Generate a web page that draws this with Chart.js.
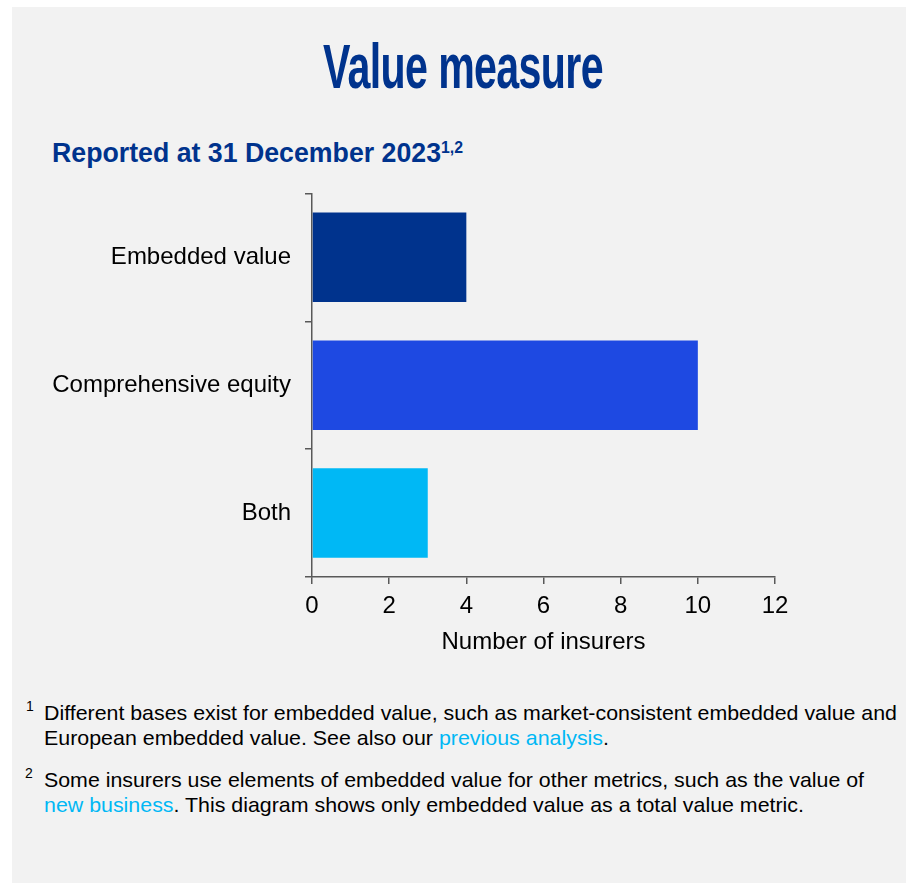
<!DOCTYPE html>
<html>
<head>
<meta charset="utf-8">
<script src="https://cdn.jsdelivr.net/npm/chart.js@4.4.0/dist/chart.umd.min.js"></script>
<style>
  body { margin: 0; background: #ffffff; font-family: "Liberation Sans", Arial, sans-serif; }
  .panel { position: absolute; left: 12px; top: 7px; width: 894px; height: 876px; background: #f2f2f2; }
  .fit { position: absolute; white-space: nowrap; transform-origin: 0 0; }
  .title { left: 323px; top: 35px; font-size: 63px; line-height: 63px; font-weight: bold; color: #00338d; letter-spacing: -1px; }
  .subtitle { left: 52px; top: 140px; font-size: 27px; line-height: 27px; font-weight: bold; color: #00338d; }
  .subtitle sup { font-size: 16px; vertical-align: 9px; line-height: 0; }
  .note { font-size: 21px; line-height: 25px; color: #000; }
  .mark { position: absolute; font-size: 14px; line-height: 14px; color: #000; }
  .link { color: #00b8f5; }
  #chart { position: absolute; left: 0; top: 165px; }
</style>
</head>
<body>
<div class="panel"></div>
<div class="fit title" data-w="280">Value measure</div>
<div class="fit subtitle" data-w="411">Reported at 31 December 2023<sup>1,2</sup></div>

<canvas id="chart" width="800" height="500"></canvas>

<div class="mark" style="left:26px; top:699px;">1</div>
<div class="fit note" style="left:44px; top:700px;" data-w="853">Different bases exist for embedded value, such as market-consistent embedded value and</div>
<div class="fit note" style="left:44px; top:725px;" data-w="565">European embedded value. See also our <span class="link">previous analysis</span>.</div>
<div class="mark" style="left:25px; top:766px;">2</div>
<div class="fit note" style="left:44px; top:767px;" data-w="820">Some insurers use elements of embedded value for other metrics, such as the value of</div>
<div class="fit note" style="left:44px; top:792px;" data-w="760"><span class="link">new business</span>. This diagram shows only embedded value as a total value metric.</div>

<script>
//// data
const categories = ["Embedded value", "Comprehensive equity", "Both"];
const insurerCounts = [4, 10, 3];
const barColors = ["#00338d", "#1e49e2", "#00b8f5"];
const xTicks = [0, 2, 4, 6, 8, 10, 12];

//// squeeze text blocks to the widths seen in the picture
function fitText() {
  document.querySelectorAll(".fit").forEach((el) => {
    const target = Number(el.dataset.w);
    const w = el.getBoundingClientRect().width;
    el.style.transform = `scaleX(${target / w})`;
  });
}

const axisGray = "#595959";

function drawChart() {
  const ctx = document.getElementById("chart").getContext("2d");
  new Chart(ctx, {
    type: "bar",
    data: {
      labels: categories,
      datasets: [{
        data: insurerCounts,
        backgroundColor: barColors,
        borderWidth: 0,
        barPercentage: 1,
        categoryPercentage: 0.7
      }]
    },
    options: {
      indexAxis: "y",
      responsive: false,
      animation: false,
      layout: { padding: { top: 8, right: 25, left: 0, bottom: 0 } },
      plugins: { legend: { display: false }, tooltip: { enabled: false } },
      scales: {
        x: {
          min: 0,
          max: 12,
          afterFit: (scale) => { scale.height = 88; },
          afterBuildTicks: (scale) => { scale.ticks = xTicks.map((v) => ({ value: v })); },
          grid: { drawOnChartArea: false, drawTicks: true, tickLength: 7, color: axisGray, lineWidth: 1.5 },
          border: { display: true, color: axisGray, width: 1.5 },
          ticks: { color: "#000", font: { family: "Liberation Sans", size: 24 }, padding: 8 },
          title: {
            display: true,
            text: "Number of insurers",
            color: "#000",
            font: { family: "Liberation Sans", size: 24 },
            padding: { top: 4, bottom: 8 }
          }
        },
        y: {
          afterFit: (scale) => { scale.width = 312; },
          grid: { offset: true, drawOnChartArea: false, drawTicks: true, tickLength: 7, color: axisGray, lineWidth: 1.5 },
          border: { display: true, color: axisGray, width: 1.5 },
          ticks: { color: "#000", font: { family: "Liberation Sans", size: 24 }, padding: 14 }
        }
      }
    }
  });
}

window.addEventListener("load", () => {
  fitText();
  drawChart();
});
</script>
</body>
</html>
